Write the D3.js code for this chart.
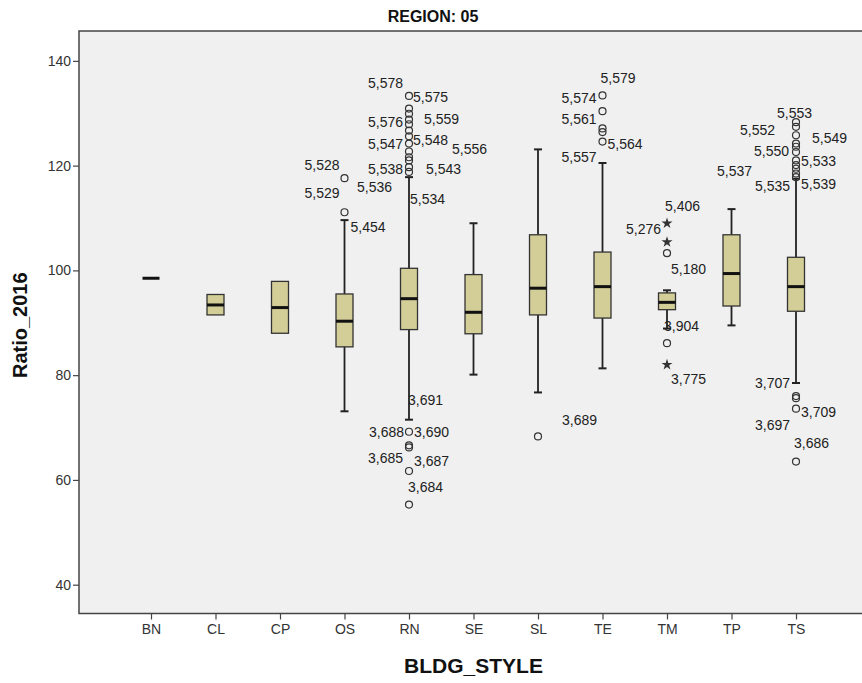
<!DOCTYPE html>
<html>
<head>
<meta charset="utf-8">
<script src="https://cdn.jsdelivr.net/npm/d3@7"></script>
<style>
	html, body { margin: 0; padding: 0; background: #fff; }
	svg { display: block; font-family: "Liberation Sans", Arial, sans-serif; }
</style>
</head>
<body>
<div id="chart"></div>
<script>
(function() {
	'use strict';

	// Categories on the x axis
	const categories = ['BN', 'CL', 'CP', 'OS', 'RN', 'SE', 'SL', 'TE', 'TM', 'TP', 'TS'];

	// Box statistics per category
	const q1       = [98.5, 91.5, 88.0, 85.4, 88.7, 87.9, 91.5, 90.9, 92.5, 93.2, 92.2];
	const medians  = [98.5, 93.4, 92.9, 90.3, 94.6, 92.0, 96.6, 96.9, 93.9, 99.4, 96.9];
	const q3       = [98.5, 95.4, 97.9, 95.5, 100.4, 99.2, 106.8, 103.5, 95.7, 106.8, 102.5];
	const whiskLo  = [98.5, 91.5, 88.0, 73.1, 71.5, 80.1, 76.7, 81.3, 88.9, 89.5, 78.5];
	const whiskHi  = [98.5, 95.4, 97.9, 109.6, 117.8, 109.0, 123.1, 120.5, 96.2, 111.7, 117.5];

	// Outliers: [category, value, kind] ('o' = circle, '*' = extreme)
	const outliers = [
		['OS', 117.6, 'o'], ['OS', 111.1, 'o'],
		['RN', 133.3, 'o'], ['RN', 130.9, 'o'], ['RN', 129.9, 'o'], ['RN', 128.8, 'o'],
		['RN', 127.9, 'o'], ['RN', 126.7, 'o'], ['RN', 125.6, 'o'], ['RN', 124.2, 'o'],
		['RN', 122.7, 'o'], ['RN', 121.6, 'o'], ['RN', 121.0, 'o'], ['RN', 119.7, 'o'],
		['RN', 118.8, 'o'],
		['RN', 69.2, 'o'], ['RN', 66.6, 'o'], ['RN', 66.2, 'o'], ['RN', 61.7, 'o'], ['RN', 55.3, 'o'],
		['SL', 68.3, 'o'],
		['TE', 133.4, 'o'], ['TE', 130.4, 'o'], ['TE', 127.1, 'o'], ['TE', 126.4, 'o'], ['TE', 124.6, 'o'],
		['TM', 109.0, '*'], ['TM', 105.4, '*'], ['TM', 103.3, 'o'], ['TM', 86.1, 'o'], ['TM', 82.0, '*'],
		['TS', 128.3, 'o'], ['TS', 127.4, 'o'], ['TS', 125.8, 'o'], ['TS', 124.2, 'o'],
		['TS', 123.6, 'o'], ['TS', 122.6, 'o'], ['TS', 121.0, 'o'], ['TS', 120.1, 'o'],
		['TS', 119.4, 'o'], ['TS', 118.5, 'o'], ['TS', 117.8, 'o'],
		['TS', 76.0, 'o'], ['TS', 75.6, 'o'], ['TS', 73.6, 'o'], ['TS', 63.5, 'o']
	];

	// Case labels: [category, value of the point it belongs to, text]
	const caseLabels = [
		['OS', 117.6, '5,528'], ['OS', 111.1, '5,529'], ['OS', 111.1, '5,454'],
		['RN', 133.3, '5,578'], ['RN', 133.3, '5,575'], ['RN', 128.8, '5,576'], ['RN', 128.8, '5,559'],
		['RN', 124.2, '5,547'], ['RN', 124.2, '5,548'], ['RN', 122.7, '5,556'], ['RN', 119.7, '5,538'],
		['RN', 119.7, '5,543'], ['RN', 118.8, '5,536'], ['RN', 118.8, '5,534'],
		['RN', 69.2, '3,691'], ['RN', 69.2, '3,688'], ['RN', 69.2, '3,690'],
		['RN', 66.4, '3,685'], ['RN', 66.4, '3,687'], ['RN', 55.3, '3,684'],
		['SL', 68.3, '3,689'],
		['TE', 133.4, '5,579'], ['TE', 133.4, '5,574'], ['TE', 130.4, '5,561'],
		['TE', 124.6, '5,564'], ['TE', 124.6, '5,557'],
		['TM', 109.0, '5,406'], ['TM', 109.0, '5,276'], ['TM', 103.3, '5,180'],
		['TM', 86.1, '3,904'], ['TM', 82.0, '3,775'],
		['TS', 128.3, '5,553'], ['TS', 127.4, '5,552'], ['TS', 125.8, '5,549'], ['TS', 124.2, '5,550'],
		['TS', 121.0, '5,533'], ['TS', 120.1, '5,537'], ['TS', 117.8, '5,535'], ['TS', 117.8, '5,539'],
		['TS', 75.8, '3,707'], ['TS', 73.6, '3,709'], ['TS', 73.6, '3,697'], ['TS', 63.5, '3,686']
	];

	// Label placement relative to its point: [dx, dy, anchor] (same order as caseLabels)
	const labelPlace = [
		[-5, -13, 'end'], [-5, -19, 'end'], [6, 15, 'start'],
		[-6, -13, 'end'], [4, 1, 'start'], [-6, 3, 'end'], [15, 0, 'start'],
		[-6, 0, 'end'], [4, -4, 'start'], [43, -2, 'start'], [-6, 2, 'end'],
		[17, 2, 'start'], [-17, 15, 'end'], [1, 27, 'start'],
		[-1, -32, 'start'], [-5, 0, 'end'], [5, 0, 'start'],
		[-6, 12, 'end'], [5, 15, 'start'], [-1, -17, 'start'],
		[24, -16, 'start'],
		[-2, -17, 'start'], [-6, 3, 'end'], [-6, 8, 'end'],
		[5, 3, 'start'], [-6, 16, 'end'],
		[-2, -17, 'start'], [-6, 6, 'end'], [4, 16, 'start'],
		[-3, -17, 'start'], [4, 14, 'start'],
		[-19, -9, 'start'], [-21, 3, 'end'], [16, 3, 'start'], [-7, 7, 'end'],
		[5, 1, 'start'], [-44, 6, 'end'], [-6, 9, 'end'], [5, 7, 'start'],
		[-6, -14, 'end'], [5, 3, 'start'], [-6, 16, 'end'], [-2, -18, 'start']
	];

	const yTicks = [40, 60, 80, 100, 120, 140];

	const width = 862;
	const height = 683;
	const margin = { top: 31, right: 0, bottom: 70, left: 79 };

	const svg = d3.select('#chart')
		.append('svg')
		.attr('width', width)
		.attr('height', height);

	const plotBottom = height - margin.bottom + 0.5;

	// Category centres: first sits ~72px inside the frame, last ~66px from the right edge
	const x = d3.scalePoint()
		.domain(categories)
		.range([margin.left + 72, width - 66]);

	const y = d3.scaleLinear()
		.domain([34.5, 145.7])
		.range([plotBottom, margin.top]);

	// Plot background + frame
	svg.append('rect')
		.attr('x', margin.left)
		.attr('y', margin.top)
		.attr('width', width - margin.left + 2)
		.attr('height', plotBottom - margin.top)
		.attr('fill', '#f0f0f0')
		.attr('stroke', '#444')
		.attr('stroke-width', 1.5);

	// Y axis
	const yAxis = svg.append('g')
		.attr('transform', `translate(${margin.left},0)`)
		.call(d3.axisLeft(y).tickValues(yTicks).tickSize(6).tickPadding(2));
	yAxis.select('.domain').remove();
	yAxis.selectAll('.tick line').attr('stroke', '#444').attr('stroke-width', 1.2);
	yAxis.selectAll('.tick text')
		.attr('fill', '#333')
		.style('font-size', '14px')
		.style('font-family', '"Liberation Sans", Arial, sans-serif');

	// X axis
	const xAxis = svg.append('g')
		.attr('transform', `translate(0,${plotBottom})`)
		.call(d3.axisBottom(x).tickSize(6).tickPadding(5));
	xAxis.select('.domain').remove();
	xAxis.selectAll('.tick line').attr('stroke', '#444').attr('stroke-width', 1.2);
	xAxis.selectAll('.tick text')
		.attr('fill', '#333')
		.style('font-size', '14px')
		.style('font-family', '"Liberation Sans Narrow", "Liberation Sans", Arial, sans-serif');

	// Boxes
	const boxW = 17;
	const capW = 8;
	const boxes = svg.append('g');

	categories.forEach(function(cat, i) {
		const cx = x(cat);
		const g = boxes.append('g');

		// whiskers
		if (whiskHi[i] > q3[i]) {
			g.append('line')
				.attr('x1', cx).attr('x2', cx)
				.attr('y1', y(q3[i])).attr('y2', y(whiskHi[i]))
				.attr('stroke', '#222').attr('stroke-width', 1.8);
			g.append('line')
				.attr('x1', cx - capW / 2).attr('x2', cx + capW / 2)
				.attr('y1', y(whiskHi[i])).attr('y2', y(whiskHi[i]))
				.attr('stroke', '#222').attr('stroke-width', 2);
		}
		if (whiskLo[i] < q1[i]) {
			g.append('line')
				.attr('x1', cx).attr('x2', cx)
				.attr('y1', y(q1[i])).attr('y2', y(whiskLo[i]))
				.attr('stroke', '#222').attr('stroke-width', 1.8);
			g.append('line')
				.attr('x1', cx - capW / 2).attr('x2', cx + capW / 2)
				.attr('y1', y(whiskLo[i])).attr('y2', y(whiskLo[i]))
				.attr('stroke', '#222').attr('stroke-width', 2);
		}

		// box
		if (q3[i] > q1[i]) {
			g.append('rect')
				.attr('x', cx - boxW / 2)
				.attr('y', y(q3[i]))
				.attr('width', boxW)
				.attr('height', y(q1[i]) - y(q3[i]))
				.attr('fill', '#d3ce97')
				.attr('stroke', '#333')
				.attr('stroke-width', 1.3);
		}

		// median
		g.append('line')
			.attr('x1', cx - boxW / 2).attr('x2', cx + boxW / 2)
			.attr('y1', y(medians[i])).attr('y2', y(medians[i]))
			.attr('stroke', '#111').attr('stroke-width', 3);
	});

	// Outlier marks
	const marks = svg.append('g');
	marks.selectAll('circle')
		.data(outliers.filter(d => d[2] === 'o'))
		.join('circle')
		.attr('cx', d => x(d[0]))
		.attr('cy', d => y(d[1]))
		.attr('r', 3.5)
		.attr('fill', 'none')
		.attr('stroke', '#333')
		.attr('stroke-width', 1.2);

	const star = d3.symbol().type(d3.symbolStar).size(38);
	marks.selectAll('path.star')
		.data(outliers.filter(d => d[2] === '*'))
		.join('path')
		.attr('class', 'star')
		.attr('transform', d => `translate(${x(d[0])},${y(d[1])})`)
		.attr('d', star)
		.attr('fill', '#333');

	// Case labels
	svg.append('g')
		.selectAll('text')
		.data(caseLabels)
		.join('text')
		.attr('x', (d, i) => x(d[0]) + labelPlace[i][0])
		.attr('y', (d, i) => y(d[1]) + labelPlace[i][1])
		.attr('dy', '0.35em')
		.attr('text-anchor', (d, i) => labelPlace[i][2])
		.attr('fill', '#222')
		.style('font-size', '14px')
		.text(d => d[2]);

	// Title and axis titles
	svg.append('text')
		.attr('x', 433)
		.attr('y', 21.5)
		.attr('text-anchor', 'middle')
		.attr('font-weight', 'bold')
		.attr('fill', '#111')
		.style('font-size', '16px')
		.text('REGION: 05');

	svg.append('text')
		.attr('x', (margin.left + width) / 2 + 3)
		.attr('y', 673)
		.attr('text-anchor', 'middle')
		.attr('font-weight', 'bold')
		.attr('fill', '#111')
		.style('font-size', '21px')
		.text('BLDG_STYLE');

	svg.append('text')
		.attr('transform', `translate(26.5,${(margin.top + plotBottom) / 2 + 3}) rotate(-90)`)
		.attr('text-anchor', 'middle')
		.attr('font-weight', 'bold')
		.attr('fill', '#111')
		.style('font-size', '20px')
		.text('Ratio_2016');

})();
</script>
</body>
</html>
